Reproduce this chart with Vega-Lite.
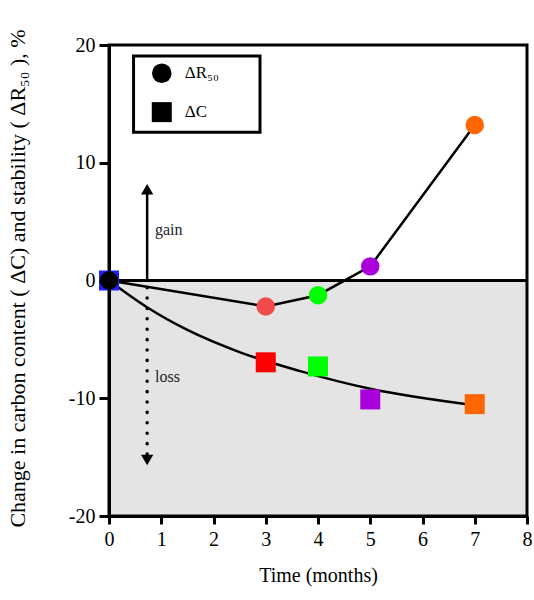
{
  "$schema": "https://vega.github.io/schema/vega-lite/v6.json",
  "width": 418,
  "height": 471,
  "autosize": {"type": "none"},
  "padding": {"left": 109, "top": 45, "right": 7, "bottom": 84},
  "background": "white",
  "config": {"view": {"stroke": null}, "font": "Liberation Serif"},
  "datasets": {
    "pts": [
      {"series": "ΔR50", "time": 0, "value": 0},
      {"series": "ΔR50", "time": 3, "value": -2.2},
      {"series": "ΔR50", "time": 4, "value": -1.25},
      {"series": "ΔR50", "time": 5, "value": 1.2},
      {"series": "ΔR50", "time": 7, "value": 13.2},
      {"series": "ΔC", "time": 0, "value": 0},
      {"series": "ΔC", "time": 3, "value": -6.95},
      {"series": "ΔC", "time": 4, "value": -7.3},
      {"series": "ΔC", "time": 5, "value": -10.1},
      {"series": "ΔC", "time": 7, "value": -10.5}
    ],
    "fit": [
      {"time": 0, "value": 0},
      {"time": 0.72, "value": -2.25},
      {"time": 1.5, "value": -4.2},
      {"time": 2.51, "value": -6.1},
      {"time": 3.66, "value": -7.7},
      {"time": 5, "value": -9.2},
      {"time": 7, "value": -10.6}
    ],
    "yticks": [
      {"value": -20, "kind": "major"}, {"value": -18, "kind": "minor"}, {"value": -16, "kind": "minor"}, {"value": -14, "kind": "minor"}, {"value": -12, "kind": "minor"},
      {"value": -10, "kind": "major"}, {"value": -8, "kind": "minor"}, {"value": -6, "kind": "minor"}, {"value": -4, "kind": "minor"}, {"value": -2, "kind": "minor"},
      {"value": 0, "kind": "major"}, {"value": 2, "kind": "minor"}, {"value": 4, "kind": "minor"}, {"value": 6, "kind": "minor"}, {"value": 8, "kind": "minor"},
      {"value": 10, "kind": "major"}, {"value": 12, "kind": "minor"}, {"value": 14, "kind": "minor"}, {"value": 16, "kind": "minor"}, {"value": 18, "kind": "minor"},
      {"value": 20, "kind": "major"}
    ],
    "xticks": [
      {"time": 0, "kind": "major"}, {"time": 0.5, "kind": "minor"}, {"time": 1, "kind": "major"}, {"time": 1.5, "kind": "minor"},
      {"time": 2, "kind": "major"}, {"time": 2.5, "kind": "minor"}, {"time": 3, "kind": "major"}, {"time": 3.5, "kind": "minor"},
      {"time": 4, "kind": "major"}, {"time": 4.5, "kind": "minor"}, {"time": 5, "kind": "major"}, {"time": 5.5, "kind": "minor"},
      {"time": 6, "kind": "major"}, {"time": 6.5, "kind": "minor"}, {"time": 7, "kind": "major"}, {"time": 7.5, "kind": "minor"},
      {"time": 8, "kind": "major"}
    ]
  },
  "encoding": {
    "x": {"field": "time", "type": "quantitative", "scale": {"domain": [0, 8], "nice": false, "zero": false},
      "axis": {"orient": "bottom", "zindex": 1, "gridOpacity": 0, "values": [0, 1, 2, 3, 4, 5, 6, 7, 8], "domainColor": "black", "domainWidth": 3, "ticks": true, "tickColor": "black", "tickSize": 8, "tickWidth": 3, "labelOverlap": false, "labelColor": "black", "labelFont": "Liberation Serif", "labelFontSize": 20, "labelPadding": 5, "labelFlush": false, "title": "Time (months)", "titleColor": "black", "titleFont": "Liberation Serif", "titleFontWeight": "normal", "titleFontSize": 20, "titlePadding": 16}},
    "y": {"field": "value", "type": "quantitative", "scale": {"domain": [-20, 20], "nice": false, "zero": false},
      "axis": {"orient": "left", "zindex": 1, "gridOpacity": 0, "values": [-20, -10, 0, 10, 20], "domainColor": "black", "domainWidth": 3, "ticks": true, "tickColor": "black", "tickSize": 10, "tickWidth": 3, "labelExpr": "datum.value < 0 ? '-' + (-datum.value) : '' + datum.value", "labelOverlap": false, "labelColor": "black", "labelFont": "Liberation Serif", "labelFontSize": 20, "labelPadding": 4, "labelFlush": false, "title": "Change in carbon content ( ΔC) and stability ( ΔR₅₀ ), %", "titleColor": "black", "titleFont": "Liberation Serif", "titleFontWeight": "normal", "titleFontSize": 22, "titleX": -92, "titleY": 233, "titleAngle": -90, "titleBaseline": "middle", "titleAlign": "center"}}
  },
  "layer": [
    {
      "data": {"values": [{"time": 0, "time2": 8, "value": -20, "value2": 0}]},
      "mark": {"type": "rect", "fill": "#e4e4e4"},
      "encoding": {"x2": {"field": "time2"}, "y2": {"field": "value2"}}
    },
    {
      "data": {"name": "yticks"},
      "transform": [{"filter": "datum.kind === 'major'"}],
      "mark": {"type": "rule", "color": "black", "strokeWidth": 3},
      "encoding": {"x": {"datum": -0.19}, "x2": {"datum": 0}}
    },
    {
      "data": {"name": "yticks"},
      "transform": [{"filter": "datum.kind === 'minor'"}],
      "mark": {"type": "rule", "color": "black", "strokeWidth": 3},
      "encoding": {"x": {"datum": -0.1}, "x2": {"datum": 0}}
    },
    {
      "data": {"name": "xticks"},
      "transform": [{"filter": "datum.kind === 'major'"}],
      "mark": {"type": "rule", "color": "black", "strokeWidth": 3},
      "encoding": {"y": {"datum": -20.68}, "y2": {"datum": -20}}
    },
    {
      "data": {"name": "xticks"},
      "transform": [{"filter": "datum.kind === 'minor'"}],
      "mark": {"type": "rule", "color": "black", "strokeWidth": 3},
      "encoding": {"y": {"datum": -20.42}, "y2": {"datum": -20}}
    },
    {
      "data": {"values": [{"time": 0, "time2": 8, "value": 0}]},
      "mark": {"type": "rule", "color": "black", "strokeWidth": 3},
      "encoding": {"x2": {"field": "time2"}}
    },
    {
      "data": {"values": [{"time": 0, "time2": 8, "value": -20, "value2": 20}]},
      "mark": {"type": "rect", "fill": null, "fillOpacity": 0, "stroke": "black", "strokeWidth": 3},
      "encoding": {"x2": {"field": "time2"}, "y2": {"field": "value2"}}
    },
    {
      "data": {"values": [{"time": 0.73, "value": 0, "value2": 7.4}]},
      "mark": {"type": "rule", "color": "black", "strokeWidth": 2.5},
      "encoding": {"y2": {"field": "value2"}}
    },
    {
      "data": {"values": [{"time": 0.73, "value": -0.6, "value2": -14.9}]},
      "mark": {"type": "rule", "color": "black", "strokeWidth": 3.5, "strokeDash": [0.1, 10.3], "strokeCap": "round"},
      "encoding": {"y2": {"field": "value2"}}
    },
    {
      "data": {"values": [{"time": 0.73, "value": 7.75}]},
      "mark": {"type": "point", "shape": "triangle-up", "filled": true, "color": "black", "opacity": 1, "size": 150},
      "encoding": {}
    },
    {
      "data": {"values": [{"time": 0.73, "value": -15.25}]},
      "mark": {"type": "point", "shape": "triangle-down", "filled": true, "color": "black", "opacity": 1, "size": 150},
      "encoding": {}
    },
    {
      "data": {"values": [{"time": 0.88, "value": 4.3, "label": "gain"}, {"time": 0.88, "value": -8.2, "label": "loss"}]},
      "mark": {"type": "text", "align": "left", "baseline": "middle", "fontSize": 16, "font": "Liberation Serif", "color": "#222222"},
      "encoding": {"text": {"field": "label"}}
    },
    {
      "data": {"name": "fit"},
      "mark": {"type": "line", "color": "black", "strokeWidth": 2.5, "interpolate": "monotone"},
      "encoding": {}
    },
    {
      "data": {"name": "pts"},
      "transform": [{"filter": "datum.series === 'ΔR50'"}],
      "mark": {"type": "line", "color": "black", "strokeWidth": 2.5},
      "encoding": {}
    },
    {
      "data": {"name": "pts"},
      "transform": [{"filter": "datum.series === 'ΔC'"}],
      "mark": {"type": "square", "filled": true, "opacity": 1, "size": 400},
      "encoding": {
        "fill": {"field": "time", "type": "ordinal", "scale": {"domain": [0, 3, 4, 5, 7], "range": ["#2020ff", "#ff0000", "#00ff00", "#a900dc", "#ff6600"]}, "legend": null}
      }
    },
    {
      "data": {"name": "pts"},
      "transform": [{"filter": "datum.series === 'ΔR50'"}],
      "mark": {"type": "circle", "opacity": 1, "size": 340},
      "encoding": {
        "color": {"field": "time", "type": "ordinal", "scale": {"domain": [0, 3, 4, 5, 7], "range": ["#000000", "#f24a4a", "#00ff00", "#a900dc", "#ff6600"]}, "legend": null}
      }
    },
    {
      "data": {"values": [{"time": 0.47, "time2": 2.89, "value": 12.6, "value2": 19.06}]},
      "mark": {"type": "rect", "fill": "white", "stroke": "black", "strokeWidth": 3},
      "encoding": {"x2": {"field": "time2"}, "y2": {"field": "value2"}}
    },
    {
      "data": {"values": [{"time": 1.01, "value": 17.6}]},
      "mark": {"type": "circle", "color": "black", "opacity": 1, "size": 380},
      "encoding": {}
    },
    {
      "data": {"values": [{"time": 1.01, "value": 14.3}]},
      "mark": {"type": "square", "color": "black", "opacity": 1, "size": 400},
      "encoding": {}
    },
    {
      "data": {"values": [{"time": 1.45, "value": 17.6, "label": "ΔR₅₀"}, {"time": 1.45, "value": 14.3, "label": "ΔC"}]},
      "mark": {"type": "text", "align": "left", "baseline": "middle", "fontSize": 17, "font": "Liberation Serif", "color": "black"},
      "encoding": {"text": {"field": "label"}}
    }
  ]
}
